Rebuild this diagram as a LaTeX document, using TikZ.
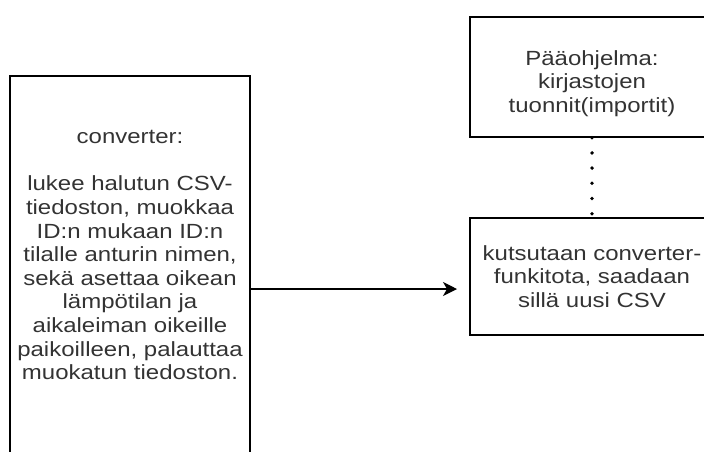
\documentclass[tikz,border=0pt]{standalone}
\usepackage{fontspec}
\setmainfont[FakeStretch=1.17]{Liberation Sans}
\usepackage{xcolor}
\usetikzlibrary{arrows.meta}

\definecolor{txtgray}{HTML}{333333}

\begin{document}
\begin{tikzpicture}[x=1pt, y=-1pt,
        box/.style={draw, line width=1.4pt, align=center, text=txtgray, inner sep=0pt,
            font=\fontsize{20.5}{23.6}\selectfont},
        flow/.style={-{Stealth[length=14pt, width=14pt, inset=4pt]}, line width=1.2pt},
        dotline/.style={line width=3.8pt, line cap=round, dash pattern=on 0pt off 15.2pt}]
        \useasboundingbox (0,0) rectangle (704,451);
        \clip (0,0) rectangle (704,451);
        % converter box, runs past the lower edge
        \node[box, minimum width=240, minimum height=426] (conv) at (130,289)
            {converter:\\[23.6pt] lukee halutun CSV-\\ tiedoston, muokkaa\\ ID:n mukaan ID:n\\
             tilalle anturin nimen,\\ sekä asettaa oikean\\ lämpötilan ja\\ aikaleiman oikeille\\
             paikoilleen, palauttaa\\ muokatun tiedoston.\rule[-68pt]{0pt}{0pt}};
        \node[box, minimum width=244, minimum height=120] (main) at (592,77)
            {\rule{0pt}{28pt}Pääohjelma:\\ kirjastojen\\ tuonnit(importit)};
        \node[box, minimum width=244, minimum height=117] (call) at (592,276.5)
            {kutsutaan converter-\\ funkitota, saadaan\\ sillä uusi CSV};
        \coordinate (tip) at (457,289);
        \draw[dotline] (main.south) -- (call.north);
        \draw[flow] (conv.east) -- (tip);
    \end{tikzpicture}
\end{document}
